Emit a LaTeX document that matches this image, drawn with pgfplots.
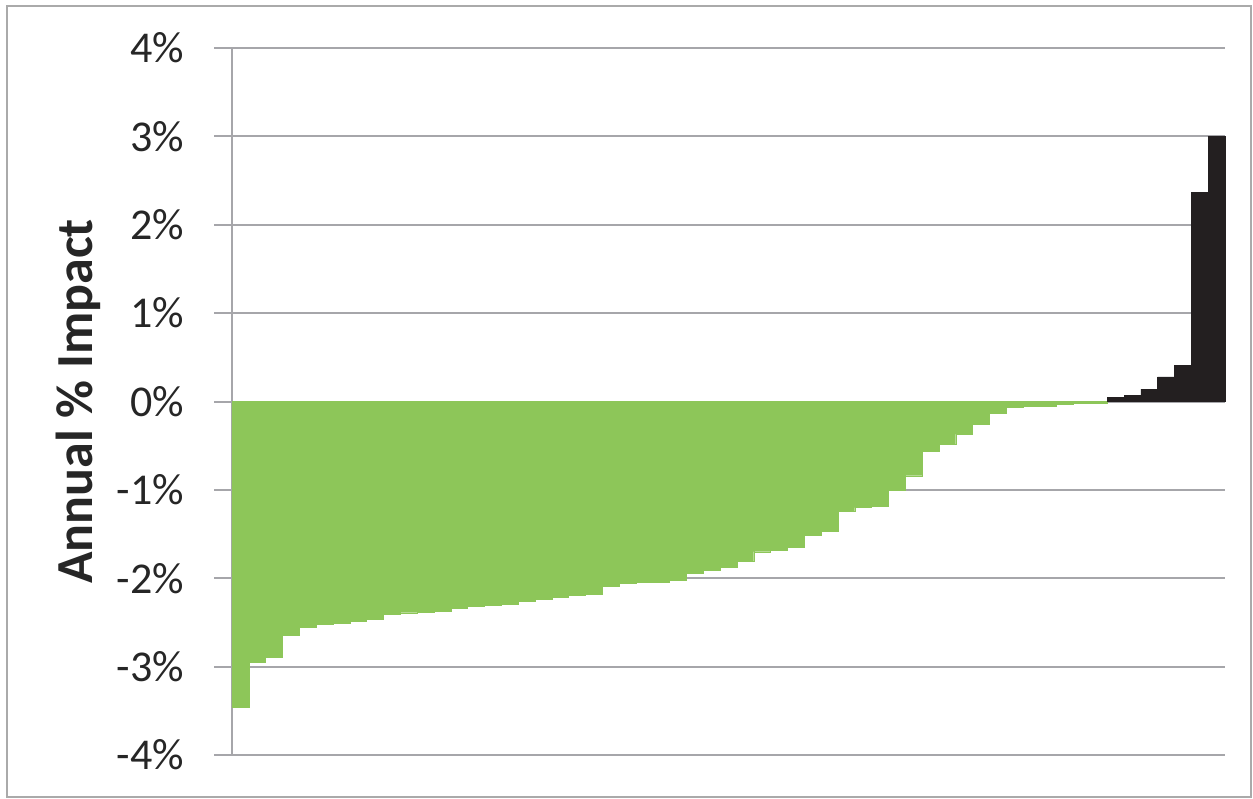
\documentclass[border=0pt]{standalone}
\usepackage{fontspec}
\setmainfont{Carlito}
\usepackage{pgfplots}
\pgfplotsset{compat=1.18}

\definecolor{barGreen}{RGB}{141,198,89}
\definecolor{barBlack}{RGB}{35,31,32}
\definecolor{gridGray}{RGB}{166,166,170}
\definecolor{frameGray}{RGB}{170,170,170}

% one bar per item, sorted (percent)
\pgfplotstableread{
x y
0 -3.46
1 -2.95
2 -2.89
3 -2.64
4 -2.55
5 -2.52
6 -2.51
7 -2.49
8 -2.46
9 -2.41
10 -2.39
11 -2.38
12 -2.37
13 -2.34
14 -2.32
15 -2.30
16 -2.29
17 -2.26
18 -2.24
19 -2.22
20 -2.19
21 -2.18
22 -2.09
23 -2.06
24 -2.05
25 -2.04
26 -2.02
27 -1.94
28 -1.91
29 -1.88
30 -1.81
31 -1.70
32 -1.68
33 -1.65
34 -1.51
35 -1.47
36 -1.24
37 -1.20
38 -1.19
39 -1.00
40 -0.84
41 -0.56
42 -0.48
43 -0.37
44 -0.26
45 -0.13
46 -0.06
47 -0.05
48 -0.05
49 -0.03
50 -0.02
51 -0.02
}\negdata
\pgfplotstableread{
x y
52 0.05
53 0.07
54 0.14
55 0.28
56 0.41
57 2.37
58 3.00
}\posdata

\begin{document}
\begin{tikzpicture}
	\useasboundingbox (-116pt,-21.5pt) rectangle (510.5pt,377.5pt);
	\draw[frameGray, line width=0.8pt] (-112.5pt,-21pt) rectangle (509.5pt,374.5pt);
	\begin{axis}[
	at={(0,0)}, anchor=south west,
	scale only axis,
	width=496.5pt, height=353.5pt,
	xmin=-0.5, xmax=58.5,
	ymin=-4, ymax=4,
	ytick distance=1,
	axis y line*=left,
	axis x line=none,
	xtick=\empty,
	ymajorgrids,
	grid style={gridGray, line width=1pt},
	axis line style={gridGray, line width=1pt},
	major tick length=0pt,
	/pgf/number format/assume math mode=true,
	yticklabel={\pgfmathprintnumber{\tick}\%},
	yticklabel style={font=\fontsize{22}{26}\selectfont, text=black!85, xshift=-20.5pt},
	ylabel={Annual \% Impact},
	ylabel style={font=\fontsize{26}{30}\selectfont\bfseries, text=black!85,
		at={(axis description cs:-0.155,0.5)}, anchor=center},
	clip=false,
	]
	\addplot[ybar, bar width=1, bar shift=0pt, fill=barGreen, draw=barGreen, line width=0.2pt] table[x=x, y=y] {\negdata};
	\addplot[ybar, bar width=1, bar shift=0pt, fill=barBlack, draw=barBlack, line width=0.2pt] table[x=x, y=y] {\posdata};
	% outside tick marks on the value axis
	\pgfplotsinvokeforeach{-4,-3,-2,-1,0,1,2,3,4}{
		\draw[gridGray, line width=1pt] (axis cs:-0.5,#1) -- ++(-9pt,0pt);
	}
	\end{axis}
\end{tikzpicture}
\end{document}
